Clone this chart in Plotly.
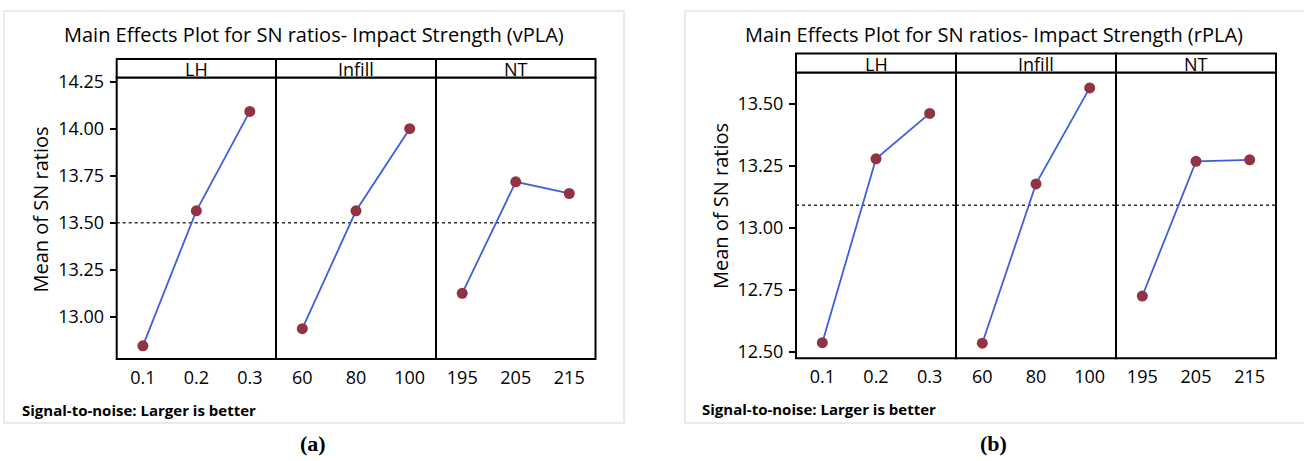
import plotly.graph_objects as go
import numpy as np

W, H = 1304, 461

# ---------------- data ----------------
factors = ["LH", "Infill", "NT"]
lh_levels = ["0.1", "0.2", "0.3"]
infill_levels = ["60", "80", "100"]
nt_levels = ["195", "205", "215"]

vpla_lh = [12.847, 13.564, 14.092]
vpla_infill = [12.938, 13.564, 14.000]
vpla_nt = [13.126, 13.718, 13.656]

rpla_lh = [12.536, 13.277, 13.460]
rpla_infill = [12.534, 13.176, 13.563]
rpla_nt = [12.724, 13.267, 13.273]

vpla_ticks = [13.00, 13.25, 13.50, 13.75, 14.00, 14.25]
rpla_ticks = [12.50, 12.75, 13.00, 13.25, 13.50]

titles = ["Main Effects Plot for SN ratios- Impact Strength (vPLA)",
          "Main Effects Plot for SN ratios- Impact Strength (rPLA)"]
footer = "Signal-to-noise: Larger is better"
sub_labels = ["(a)", "(b)"]
y_title = "Mean of SN ratios"

# ---------------- helpers ----------------
def px(x):
    return x / W

def py(y):
    return 1 - y / H

FONT = "Open Sans"
LINE_C = "#3F5FD6"
MARK_C = "#913342"
TXT = "#000000"

fig = go.Figure()

groups = [
    dict(levels=[lh_levels, infill_levels, nt_levels],
         vals=[vpla_lh, vpla_infill, vpla_nt],
         ticks=vpla_ticks, yr=[12.777, 14.272],
         xs=[116.7, 276, 436, 595.5], ytop=77.5, ybot=359, stript=59,
         striptext=69, title_x=313.5, ytitle_x=39.5, ytitle_y=210,
         footer_x=20, footer_y=410, card=(4, 624), sub_x=313),
    dict(levels=[lh_levels, infill_levels, nt_levels],
         vals=[rpla_lh, rpla_infill, rpla_nt],
         ticks=rpla_ticks, yr=[12.473, 13.625],
         xs=[796, 956, 1116, 1276], ytop=72.5, ybot=358.3, stript=53.5,
         striptext=64, title_x=994, ytitle_x=720, ytitle_y=206,
         footer_x=700, footer_y=409, card=(685, 1312), sub_x=993),
]

shapes = []
annotations = []
ax = 0
for gi, g in enumerate(groups):
    # card border
    shapes.append(dict(type="rect", xref="paper", yref="paper",
                       x0=px(g["card"][0]), x1=px(g["card"][1]),
                       y0=py(423), y1=py(11),
                       line=dict(color="#e4e4e4", width=1.5), layer="below"))
    allv = np.concatenate([np.array(v) for v in g["vals"]])
    mean = float(allv.mean())
    first_y = None
    for pi in range(3):
        ax += 1
        xname = "x" if ax == 1 else f"x{ax}"
        yname = "y" if ax == 1 else f"y{ax}"
        fig.add_trace(go.Scatter(
            x=g["levels"][pi], y=g["vals"][pi], xaxis=xname, yaxis=yname,
            mode="lines+markers",
            line=dict(color=LINE_C, width=1.8),
            marker=dict(color=MARK_C, size=11),
            showlegend=False, hoverinfo="x+y"))
        # reference line (mean)
        shapes.append(dict(type="line", xref=f"{xname} domain", yref=yname,
                           x0=0, x1=1, y0=mean, y1=mean,
                           line=dict(color="#333333", width=1.5, dash="dot"),
                           layer="below"))
        xd = [px(g["xs"][pi]), px(g["xs"][pi + 1])]
        yd = [py(g["ybot"]), py(g["ytop"])]
        xa = dict(domain=xd, anchor=yname, type="category",
                  range=[-0.49, 2.49], showgrid=False, zeroline=False,
                  automargin=False, showline=False,
                  ticks="", ticklabelstandoff=6,
                  tickfont=dict(family=FONT, size=18, color=TXT))
        ya = dict(domain=yd, anchor=xname, range=g["yr"], showgrid=False,
                  zeroline=False, showline=False, automargin=False,
                  tickvals=g["ticks"],
                  ticktext=[f"{t:.2f}" for t in g["ticks"]])
        if pi == 0:
            first_y = yname
            ya.update(ticks="outside", ticklen=6, tickwidth=1.5,
                      tickcolor="black", ticklabelstandoff=2,
                      tickfont=dict(family=FONT, size=18, color=TXT))
        else:
            ya.update(matches=first_y, showticklabels=False, ticks="")
        fig.layout[("xaxis" if ax == 1 else f"xaxis{ax}")] = xa
        fig.layout[("yaxis" if ax == 1 else f"yaxis{ax}")] = ya
        # panel frame
        shapes.append(dict(type="rect", xref="paper", yref="paper",
                           x0=xd[0], x1=xd[1], y0=yd[0], y1=yd[1],
                           line=dict(color="black", width=2)))
        # strip header
        shapes.append(dict(type="rect", xref="paper", yref="paper",
                           x0=xd[0], x1=xd[1], y0=py(g["ytop"]),
                           y1=py(g["stript"]),
                           line=dict(color="black", width=2),
                           fillcolor="white"))
        annotations.append(dict(text=factors[pi], xref="paper", yref="paper",
                                x=(xd[0] + xd[1]) / 2, y=py(g["striptext"]),
                                showarrow=False, xanchor="center",
                                yanchor="middle",
                                font=dict(family=FONT, size=18, color=TXT)))
    # title
    annotations.append(dict(text=titles[gi], xref="paper", yref="paper",
                            x=px(g["title_x"]), y=py(34), showarrow=False,
                            xanchor="center", yanchor="middle",
                            font=dict(family=FONT, size=20, color=TXT)))
    # y title
    annotations.append(dict(text=y_title, xref="paper", yref="paper",
                            x=px(g["ytitle_x"]), y=py(g["ytitle_y"]),
                            showarrow=False, textangle=-90,
                            xanchor="center", yanchor="middle",
                            font=dict(family=FONT, size=20, color=TXT)))
    # footer
    annotations.append(dict(text=f"<b>{footer}</b>", xref="paper",
                            yref="paper", x=px(g["footer_x"]),
                            y=py(g["footer_y"]), showarrow=False,
                            xanchor="left", yanchor="middle",
                            font=dict(family=FONT, size=15, color=TXT)))
    # sub label
    annotations.append(dict(text=f"<b>{sub_labels[gi]}</b>", xref="paper",
                            yref="paper", x=px(g["sub_x"]), y=py(443),
                            showarrow=False, xanchor="center",
                            yanchor="middle",
                            font=dict(family="Liberation Serif", size=22,
                                      color="black")))

fig.update_layout(template="none", width=W, height=H,
                  margin=dict(l=0, r=0, t=0, b=0, pad=0),
                  paper_bgcolor="white", plot_bgcolor="white",
                  shapes=shapes, annotations=annotations, showlegend=False)

fig.write_html("out.html")
